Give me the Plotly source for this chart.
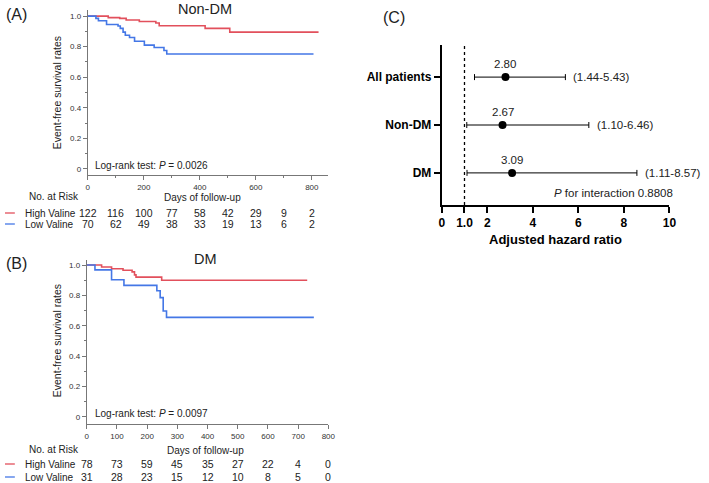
import plotly.graph_objects as go

# ---------------- data ----------------
# Panel A (Non-DM) Kaplan-Meier step points
a_high_days = [0, 73, 114, 137, 184, 243, 255, 419, 507, 824]
a_high_surv = [1.0, 0.99, 0.985, 0.975, 0.965, 0.955, 0.937, 0.92, 0.895, 0.895]
a_low_days = [0, 29, 38, 67, 108, 116, 126, 134, 149, 167, 202, 237, 272, 282, 806]
a_low_surv = [1.0, 0.985, 0.97, 0.945, 0.935, 0.92, 0.895, 0.875, 0.86, 0.835, 0.81, 0.795, 0.775, 0.752, 0.752]

# Panel B (DM)
b_high_days = [0, 49, 82, 120, 150, 158, 163, 248, 730]
b_high_surv = [1.0, 0.987, 0.975, 0.965, 0.955, 0.935, 0.92, 0.90, 0.90]
b_low_days = [0, 27, 82, 123, 232, 243, 253, 264, 752]
b_low_surv = [1.0, 0.968, 0.903, 0.866, 0.83, 0.785, 0.697, 0.655, 0.655]

risk_days = [0, 100, 200, 300, 400, 500, 600, 700, 800]
a_risk_high = [122, 116, 100, 77, 58, 42, 29, 9, 2]
a_risk_low = [70, 62, 49, 38, 33, 19, 13, 6, 2]
b_risk_high = [78, 73, 59, 45, 35, 27, 22, 4, 0]
b_risk_low = [31, 28, 23, 15, 12, 10, 8, 5, 0]

# Panel C forest plot
groups = ["All patients", "Non-DM", "DM"]
group_pos = [3, 2, 1]
hr = [2.80, 2.67, 3.09]
ci_low = [1.44, 1.10, 1.11]
ci_high = [5.43, 6.46, 8.57]

RED = "#E2505C"
BLUE = "#4477E6"
FONT = "Liberation Sans, Arial, sans-serif"
W, H = 709, 483

def py(px):
    return 1 - px / H

def pxx(px):
    return px / W

fig = go.Figure()

# KM curves
fig.add_trace(go.Scatter(x=a_high_days, y=a_high_surv, mode="lines", line=dict(color=RED, width=1.6, shape="hv"),
                         xaxis="x", yaxis="y", showlegend=False))
fig.add_trace(go.Scatter(x=a_low_days, y=a_low_surv, mode="lines", line=dict(color=BLUE, width=1.6, shape="hv"),
                         xaxis="x", yaxis="y", showlegend=False))
fig.add_trace(go.Scatter(x=b_high_days, y=b_high_surv, mode="lines", line=dict(color=RED, width=1.6, shape="hv"),
                         xaxis="x2", yaxis="y2", showlegend=False))
fig.add_trace(go.Scatter(x=b_low_days, y=b_low_surv, mode="lines", line=dict(color=BLUE, width=1.6, shape="hv"),
                         xaxis="x2", yaxis="y2", showlegend=False))

# Forest plot
fig.add_trace(go.Scatter(
    x=hr, y=group_pos, mode="markers",
    marker=dict(color="black", size=8),
    error_x=dict(type="data", symmetric=False,
                 array=[h - hh for h, hh in zip(ci_high, hr)],
                 arrayminus=[hh - l for hh, l in zip(hr, ci_low)],
                 color="black", thickness=1, width=3),
    xaxis="x3", yaxis="y3", showlegend=False))

km_tick = dict(size=8, color="#333", family=FONT)
axis_col = "#777"
ymin = dict(dtick=0.1, ticks="outside", ticklen=2, tickcolor=axis_col)

layout = dict(
    width=W, height=H, margin=dict(l=0, r=0, t=0, b=0),
    paper_bgcolor="white", plot_bgcolor="white",
    font=dict(family=FONT, color="#222"),
    xaxis=dict(domain=[pxx(86), pxx(330)], range=[0, 859], tickvals=[0, 200, 400, 600, 800],
               showline=True, linecolor=axis_col, linewidth=1, ticks="outside", ticklen=4, tickcolor=axis_col,
               minor=dict(dtick=100, ticks="outside", ticklen=2, tickcolor=axis_col),
               showgrid=False, zeroline=False, tickfont=km_tick, anchor="y"),
    yaxis=dict(domain=[py(175), py(10)], range=[-0.04, 1.04], tickvals=[0, 0.2, 0.4, 0.6, 0.8, 1.0],
               ticktext=["0", "0.2", "0.4", "0.6", "0.8", "1.0"], minor=ymin,
               showline=True, linecolor=axis_col, linewidth=1, ticks="outside", ticklen=4, tickcolor=axis_col,
               showgrid=False, zeroline=False, tickfont=km_tick, anchor="x"),
    xaxis2=dict(domain=[pxx(85), pxx(330)], range=[0, 800], dtick=100,
                showline=True, linecolor=axis_col, linewidth=1, ticks="outside", ticklen=4, tickcolor=axis_col,
                showgrid=False, zeroline=False, tickfont=km_tick, anchor="y2"),
    yaxis2=dict(domain=[py(424), py(260)], range=[-0.048, 1.033], tickvals=[0, 0.2, 0.4, 0.6, 0.8, 1.0],
                ticktext=["0", "0.2", "0.4", "0.6", "0.8", "1.0"], minor=ymin,
                showline=True, linecolor=axis_col, linewidth=1, ticks="outside", ticklen=4, tickcolor=axis_col,
                showgrid=False, zeroline=False, tickfont=km_tick, anchor="x2"),
    xaxis3=dict(domain=[pxx(445), pxx(676)], range=[0, 10], tickvals=[0, 1, 2, 4, 6, 8, 10],
                ticktext=["0", "1.0", "2", "4", "6", "8", "10"],
                showline=True, linecolor="black", linewidth=2, ticks="outside", ticklen=6, tickwidth=2,
                tickcolor="black", showgrid=False, zeroline=False,
                tickfont=dict(size=12, color="black", family=FONT, weight="bold"), anchor="y3"),
    yaxis3=dict(domain=[py(205), py(45)], range=[0.33, 3.67], tickvals=group_pos, ticktext=[f"<b>{g}</b>" for g in groups],
                showline=True, linecolor="black", linewidth=2, ticks="outside", ticklen=6, tickwidth=2,
                tickcolor="black", showgrid=False, zeroline=False,
                tickfont=dict(size=12, color="black", family=FONT), anchor="x3"),
)
fig.update_layout(**layout)

ann = []

def txt(x, y, s, size=11, xanchor="center", yanchor="middle", xref="paper", yref="paper", **kw):
    ann.append(dict(x=x, y=y, text=s, xref=xref, yref=yref, showarrow=False, xanchor=xanchor, yanchor=yanchor,
                    font=dict(size=size, family=FONT, color=kw.pop("color", "#222")), **kw))

# Panel labels
txt(pxx(1), py(15), "(A)", size=16, xanchor="left")
txt(pxx(1), py(263), "(B)", size=16, xanchor="left")
txt(pxx(383), py(18), "(C)", size=16, xanchor="left")

# Titles
txt(pxx(205), py(9), "Non-DM", size=14.5)
txt(pxx(205), py(259), "DM", size=14.5)

# Y-axis titles
txt(pxx(55), py(93), "Event-free survival rates", size=10.5, textangle=-90)
txt(pxx(55), py(341), "Event-free survival rates", size=10.5, textangle=-90)

# Log-rank
txt(pxx(91), py(165), "Log-rank test: <i>P</i> = 0.0026", size=10, xanchor="left")
txt(pxx(91), py(413), "Log-rank test: <i>P</i> = 0.0097", size=10, xanchor="left")

# X-axis titles
txt(pxx(202), py(197), "Days of follow-up", size=10)
txt(pxx(205), py(450), "Days of follow-up", size=10)

# No. at Risk tables
txt(pxx(24), py(196), "No. at Risk", size=10, xanchor="left")
txt(pxx(20), py(213), "High Valine", size=10, xanchor="left")
txt(pxx(20), py(224), "Low Valine", size=10, xanchor="left")
txt(pxx(24), py(449), "No. at Risk", size=10, xanchor="left")
txt(pxx(20), py(464), "High Valine", size=10, xanchor="left")
txt(pxx(20), py(477), "Low Valine", size=10, xanchor="left")

for d, h, l in zip(risk_days, a_risk_high, a_risk_low):
    txt(d, py(213), str(h), size=10.5, xref="x")
    txt(d, py(224), str(l), size=10.5, xref="x")
for d, h, l in zip(risk_days, b_risk_high, b_risk_low):
    txt(d, py(464), str(h), size=10.5, xref="x2")
    txt(d, py(477), str(l), size=10.5, xref="x2")

# Forest annotations
for g, p, h, lo, hi_ in zip(groups, group_pos, hr, ci_low, ci_high):
    ann.append(dict(x=h, y=p, xref="x3", yref="y3", text=f"{h:.2f}", showarrow=False, yshift=13,
                    font=dict(size=11.5, family=FONT, color="#222")))
    ann.append(dict(x=hi_, y=p, xref="x3", yref="y3", text=f"({lo:.2f}-{hi_:.2f})", showarrow=False,
                    xanchor="left", xshift=6, font=dict(size=11.5, family=FONT, color="#222")))

txt(pxx(682), py(193), "<i>P</i> for interaction 0.8808", size=11.5, xanchor="right")
txt(pxx(560), py(239), "<b>Adjusted hazard ratio</b>", size=13, color="black")

fig.update_layout(annotations=ann)

# legend dashes for number-at-risk tables
shapes = []
for yy, col in [(213, RED), (224, BLUE), (464, RED), (477, BLUE)]:
    shapes.append(dict(type="line", xref="paper", yref="paper", x0=pxx(2), x1=pxx(12), y0=py(yy), y1=py(yy),
                       line=dict(color=col, width=1.3)))
# reference line at HR = 1
shapes.append(dict(type="line", xref="x3", yref="y3 domain", x0=1, x1=1, y0=0, y1=1,
                   line=dict(color="black", width=1.3, dash="dot")))
fig.update_layout(shapes=shapes)

fig.write_html("out.html", config={"displayModeBar": False},
               post_script="document.body.style.margin='0';document.body.style.overflow='hidden';")
